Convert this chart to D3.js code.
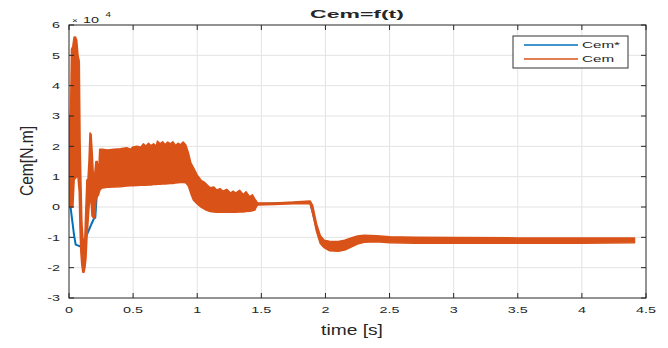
<!DOCTYPE html>
<html><head><meta charset="utf-8">
<script src="https://cdn.jsdelivr.net/npm/d3@7"></script>
<style>body{margin:0;background:#fff;} text{font-family:"Liberation Sans",Arial,Helvetica,sans-serif;fill:#262626;}</style>
</head><body>
<svg id="c" width="668" height="348"></svg>
<script>
// ---- data (values in units of 1e4 N.m) ----
const xTicks = [0, 0.5, 1, 1.5, 2, 2.5, 3, 3.5, 4, 4.5];
const yTicks = [-3, -2, -1, 0, 1, 2, 3, 4, 5, 6];
const xTickLabels = ["0","0.5","1","1.5","2","2.5","3","3.5","4","4.5"];
const yTickLabels = ["-3","-2","-1","0","1","2","3","4","5","6"];
const seriesNames = ["Cem*", "Cem"];

// Cem* (reference torque)
const refT = [0, 0.013, 0.026, 0.039, 0.052, 0.086, 0.12, 0.156, 0.174, 0.195, 0.205, 0.215, 0.24, 0.26, 0.9, 0.95, 1.0, 1.1, 1.46, 1.88, 1.93, 1.96, 2.0, 2.1, 2.2, 2.3, 4.41];
const refV = [0, -0.03, -0.47, -0.91, -1.24, -1.3, -1.1, -0.75, -0.57, -0.38, -0.35, 0.3, 0.9, 1.2, 1.45, 1.2, 0.6, 0.2, 0.1, 0.16, -0.67, -1.07, -1.22, -1.29, -1.16, -1.04, -1.1];

// Cem (measured torque, drawn as its oscillation envelope)
const cemT  = [0, 0.006, 0.012, 0.02, 0.03, 0.04, 0.05, 0.06, 0.07, 0.08, 0.086, 0.093, 0.1, 0.108, 0.116, 0.124, 0.132, 0.14, 0.148, 0.156, 0.164, 0.172, 0.18, 0.19, 0.2, 0.21, 0.22, 0.23, 0.24, 0.25,
  0.26, 0.3, 0.35, 0.4, 0.45, 0.48, 0.5, 0.53, 0.56, 0.58, 0.6, 0.62, 0.64, 0.66, 0.68, 0.69, 0.71, 0.73, 0.75, 0.77, 0.79, 0.81, 0.83, 0.85, 0.87, 0.89, 0.91,
  0.93, 0.95, 0.97, 1.0, 1.03, 1.06, 1.1, 1.13, 1.15, 1.18, 1.2, 1.23, 1.26, 1.28, 1.3, 1.33, 1.36, 1.38, 1.41, 1.43, 1.45, 1.46,
  1.47, 1.6, 1.75, 1.88, 1.9, 1.93, 1.96, 1.99, 2.03, 2.1, 2.15, 2.2, 2.25, 2.3, 2.4, 2.5, 2.7, 3.0, 3.5, 4.0, 4.41];
const cemHi = [0.1, 3.0, 3.05, 5.2, 5.3, 5.6, 5.6, 5.5, 5.0, 4.8, 2.2, 0.8, -0.5, -1.0, -1.3, -1.0, 0.0, 0.9, 0.9, 1.5, 2.44, 2.4, 1.85, 1.0, 1.07, 1.5, 1.5, 1.0, 1.9, 1.9,
  1.9, 1.88, 1.9, 1.92, 1.95, 1.9, 1.98, 2.0, 1.97, 2.08, 2.0, 2.1, 2.02, 2.08, 2.0, 2.17, 2.08, 2.15, 2.05, 2.14, 2.08, 2.15, 2.02, 2.1, 2.05, 2.14, 2.05,
  1.8, 1.45, 1.3, 1.05, 0.88, 0.8, 0.63, 0.66, 0.56, 0.6, 0.52, 0.58, 0.46, 0.52, 0.46, 0.55, 0.4, 0.5, 0.33, 0.4, 0.26, 0.2,
  0.13, 0.13, 0.16, 0.2, 0.05, -0.55, -0.95, -1.1, -1.13, -1.14, -1.1, -1.02, -0.96, -0.93, -0.95, -0.98, -1.0, -1.01, -1.02, -1.02, -1.02];
const cemLo = [0.0, 0.0, 0.0, 0.0, 0.0, 0.9, 0.95, 1.0, 1.0, 0.5, -0.7, -1.5, -1.9, -2.15, -2.15, -2.0, -1.7, -1.0, -0.5, 0.0, 0.3, 0.2, -0.3, -0.35, -0.35, 0.25, 0.35, 0.4, 0.55, 0.6,
  0.63, 0.65, 0.66, 0.67, 0.69, 0.7, 0.7, 0.71, 0.72, 0.72, 0.72, 0.73, 0.73, 0.74, 0.74, 0.75, 0.75, 0.76, 0.76, 0.77, 0.78, 0.78, 0.79, 0.8, 0.81, 0.81, 0.8,
  0.7, 0.45, 0.23, 0.1, 0.0, -0.08, -0.15, -0.16, -0.17, -0.17, -0.17, -0.17, -0.17, -0.17, -0.17, -0.16, -0.16, -0.15, -0.14, -0.12, -0.1, 0.0,
  0.07, 0.08, 0.11, 0.12, -0.2, -0.8, -1.2, -1.34, -1.44, -1.46, -1.42, -1.32, -1.22, -1.16, -1.14, -1.18, -1.19, -1.19, -1.19, -1.19, -1.18];

// ---- layout ----
const L = 69, R = 646, T = 25, B = 298;
const svg = d3.select("#c");
const x = d3.scaleLinear().domain([0, 4.5]).range([L, R]);
const y = d3.scaleLinear().domain([-3, 6]).range([B, T]);
const blue = "#0072BD", orange = "#D95319", axc = "#262626";

function stext(g, str, tx, ty, size, sx, anchor, weight) {
  return g.append("text").text(str)
    .attr("transform", `translate(${tx},${ty}) scale(${sx},1)`)
    .attr("font-size", size).attr("text-anchor", anchor || "start")
    .attr("font-weight", weight || "normal");
}

// grid
const grid = svg.append("g").attr("stroke", "#e3e3e3").attr("stroke-width", 1);
xTicks.slice(1, -1).forEach(v => grid.append("line").attr("x1", x(v)).attr("x2", x(v)).attr("y1", T).attr("y2", B));
yTicks.slice(1, -1).forEach(v => grid.append("line").attr("y1", y(v)).attr("y2", y(v)).attr("x1", L).attr("x2", R));

// series
svg.append("clipPath").attr("id", "clip").append("rect").attr("x", L).attr("y", T).attr("width", R - L).attr("height", B - T);
const plot = svg.append("g").attr("clip-path", "url(#clip)");
const refData = refT.map((t, i) => [t, refV[i]]);
plot.append("path").datum(refData)
  .attr("d", d3.line().x(d => x(d[0])).y(d => y(d[1])))
  .attr("fill", "none").attr("stroke", blue).attr("stroke-width", 2).attr("stroke-linejoin", "round");
const cemData = cemT.map((t, i) => ({t, hi: cemHi[i], lo: cemLo[i]}));
plot.append("path").datum(cemData)
  .attr("d", d3.area().x(d => x(d.t)).y0(d => y(d.lo)).y1(d => y(d.hi)))
  .attr("fill", orange).attr("stroke", orange).attr("stroke-width", 1.6).attr("stroke-linejoin", "round");

// axes (box with inward ticks)
const ax = svg.append("g").attr("stroke", axc).attr("stroke-width", 1).attr("fill", "none");
ax.append("rect").attr("x", L).attr("y", T).attr("width", R - L).attr("height", B - T);
const tl = 5;
xTicks.forEach(v => {
  ax.append("line").attr("x1", x(v)).attr("x2", x(v)).attr("y1", B).attr("y2", B - tl);
  ax.append("line").attr("x1", x(v)).attr("x2", x(v)).attr("y1", T).attr("y2", T + tl);
});
yTicks.forEach(v => {
  ax.append("line").attr("y1", y(v)).attr("y2", y(v)).attr("x1", L).attr("x2", L + tl);
  ax.append("line").attr("y1", y(v)).attr("y2", y(v)).attr("x1", R).attr("x2", R - tl);
});

// tick labels
const lab = svg.append("g");
xTicks.forEach((v, i) => stext(lab, xTickLabels[i], x(v), 313, 9, 1.6, "middle"));
yTicks.forEach((v, i) => stext(lab, yTickLabels[i], 60, y(v) + 3.2, 9, 1.6, "end"));

// exponent
stext(lab, "\u00d7", 72, 23, 7, 1.4, "start");
stext(lab, "10", 83, 22.5, 9, 1.6, "start");
stext(lab, "4", 105.5, 17, 7, 1.4, "start");

// titles
stext(lab, "Cem=f(t)", 357, 18, 11.5, 2.0, "middle", "bold");
stext(lab, "time [s]", 352, 335, 15, 1.28, "middle");
lab.append("text").text("Cem[N.m]")
  .attr("transform", `translate(33,161) rotate(-90) scale(0.82,1)`)
  .attr("font-size", 19).attr("text-anchor", "middle");

// legend
const lg = svg.append("g");
lg.append("rect").attr("x", 513).attr("y", 36).attr("width", 115).attr("height", 32)
  .attr("fill", "#fff").attr("stroke", "#333").attr("stroke-width", 1);
[blue, orange].forEach((c, i) => {
  const yy = 45 + i * 14;
  lg.append("line").attr("x1", 524).attr("x2", 578).attr("y1", yy).attr("y2", yy)
    .attr("stroke", c).attr("stroke-width", 1.6);
  stext(lg, seriesNames[i], 582, yy + 3.4, 9.5, 1.6, "start");
});
</script>
</body></html>
